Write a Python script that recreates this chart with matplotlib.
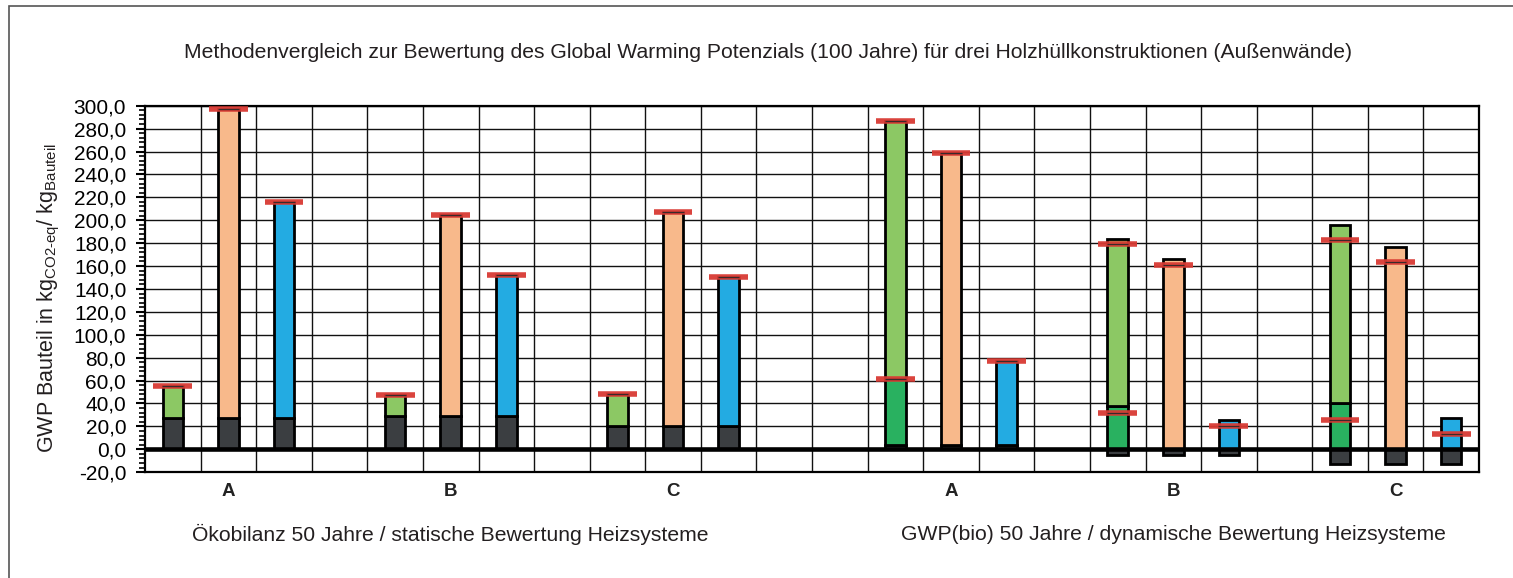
import numpy as np
import matplotlib
matplotlib.use('Agg')
import matplotlib.pyplot as plt
from matplotlib.ticker import MultipleLocator, FuncFormatter, FixedLocator
from matplotlib.transforms import blended_transform_factory
from matplotlib.patches import Rectangle

plt.rcParams['font.family'] = ['Liberation Sans', 'DejaVu Sans']
plt.rcParams['mathtext.fontset'] = 'custom'
plt.rcParams['mathtext.rm'] = 'Liberation Sans'
plt.rcParams['mathtext.it'] = 'Liberation Sans:italic'

varianten = ['A', 'B', 'C']

# Ökobilanz 50 Jahre / statische Bewertung (Sockel = dunkler Anteil, Rest = Gesamtwert)
stat_sockel = [27.5, 29.5, 20.0]
stat_gruen = [55.5, 47.5, 48.0]
stat_orange = [297.5, 205.0, 207.0]
stat_blau = [215.5, 152.5, 150.5]

# GWP(bio) 50 Jahre / dynamische Bewertung
dyn_sockel = [4.0, -5.0, -13.0]
dyn_gruen_unten = [61.5, 37.5, 40.0]
dyn_gruen = [286.5, 184.0, 196.0]
dyn_orange = [259.0, 166.0, 176.5]
dyn_blau = [77.5, 25.5, 27.0]
# rote Markierungen (dynamisch)
mark_gruen_unten = [61.5, 32.0, 25.5]
mark_gruen = [286.5, 179.0, 183.0]
mark_orange = [259.0, 160.5, 163.5]
mark_blau = [77.5, 20.0, 13.0]

c_dunkel = '#3b3e41'
c_hellgruen = '#8cc864'
c_gruen = '#29b160'
c_orange = '#f8b98b'
c_blau = '#23abe2'
c_rot = '#d83a33'

fig = plt.figure(figsize=(15.13, 5.78), dpi=100)
ax = fig.add_axes([145/1513, 1-472.2/578, (1479-145)/1513, (472.2-105.7)/578])

bw = 0.37
elw = 2.0


def stapel(x, teile):
    # teile: liste von (unten, oben, farbe)
    for u, o, f in teile:
        ax.bar(x, o-u, bottom=u, width=bw, color=f, edgecolor='black', lw=elw, zorder=3)


def marke(x, y):
    ax.hlines(y, x-0.35, x+0.35, color=c_rot, lw=4.0, alpha=0.95, zorder=5)
    ax.hlines(y, x-0.19, x+0.19, color='#3a2a2a', lw=0.9, zorder=6)


# linke Hälfte
for i in range(3):
    x0 = i*4
    s = stat_sockel[i]
    for k, (tot, f) in enumerate([(stat_gruen[i], c_hellgruen), (stat_orange[i], c_orange), (stat_blau[i], c_blau)]):
        stapel(x0+k, [(0, s, c_dunkel), (s, tot, f)])
        marke(x0+k, tot)

# rechte Hälfte
for i in range(3):
    x0 = 13 + i*4
    s = dyn_sockel[i]
    lo, hi = min(0, s), max(0, s)
    stapel(x0, [(lo, hi, c_dunkel), (hi, dyn_gruen_unten[i], c_gruen), (dyn_gruen_unten[i], dyn_gruen[i], c_hellgruen)])
    marke(x0, mark_gruen[i])
    marke(x0, mark_gruen_unten[i])
    stapel(x0+1, [(lo, hi, c_dunkel), (hi, dyn_orange[i], c_orange)])
    marke(x0+1, mark_orange[i])
    stapel(x0+2, [(lo, hi, c_dunkel), (hi, dyn_blau[i], c_blau)])
    marke(x0+2, mark_blau[i])

ax.axhline(0, color='black', lw=3.3, zorder=4)

ax.set_xlim(-0.5, 23.5)
ax.set_ylim(-20, 300)
ax.yaxis.set_major_locator(MultipleLocator(20))
ax.yaxis.set_minor_locator(MultipleLocator(4))
ax.yaxis.set_major_formatter(FuncFormatter(lambda v, p: f'{v:.1f}'.replace('.', ',')))
ax.tick_params(axis='y', which='major', length=6.5, width=1.5, labelsize=15, pad=7, colors='black')
ax.tick_params(axis='y', which='minor', length=4, width=1.2)
ax.xaxis.set_major_locator(FixedLocator(np.arange(0.5, 23.5, 1)))
ax.tick_params(axis='x', which='both', length=0, labelbottom=False)
ax.grid(True, which='major', color='#111111', lw=1.0, zorder=0)
ax.set_axisbelow(True)
for sp in ax.spines.values():
    sp.set_linewidth(1.6)
    sp.set_color('black')

tr = blended_transform_factory(ax.transData, ax.transAxes)
for i, v in enumerate(varianten):
    for off in (1, 14):
        ax.text(off + i*4, -0.054, v, transform=tr, ha='center', va='center',
                fontsize=13.5, fontweight='bold', color='#222222')
ax.text(5, -0.171, 'Ökobilanz 50 Jahre / statische Bewertung Heizsysteme', transform=tr,
        ha='center', va='center', fontsize=15.2, color='#231f20')
ax.text(18, -0.171, 'GWP(bio) 50 Jahre / dynamische Bewertung Heizsysteme', transform=tr,
        ha='center', va='center', fontsize=15.2, color='#231f20')

fig.text(768/1513, 1-52/578,
         'Methodenvergleich zur Bewertung des Global Warming Potenzials (100 Jahre) für drei Holzhüllkonstruktionen (Außenwände)',
         ha='center', va='center', fontsize=15.2, color='#231f20')
fig.text(49/1513, 1-298/578,
         'GWP Bauteil in kg$_{\\mathrm{CO2‐eq}}$/ kg$_{\\mathrm{Bauteil}}$',
         rotation=90, ha='center', va='center', fontsize=15.5, color='#231f20')

fig.patches.append(Rectangle((9.3/1513, -1.0), 2.0, 2.0 - 6/578, transform=fig.transFigure,
                             fill=False, edgecolor='#555555', lw=1.2))

fig.savefig('out.png', dpi=100)
